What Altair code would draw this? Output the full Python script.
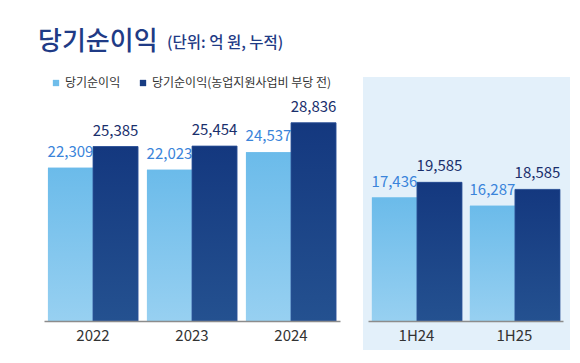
import altair as alt
import pandas as pd

FONT = "Noto Sans CJK KR"

# ---- data ----
years = ["2022", "2023", "2024"]
halves = ["1H24", "1H25"]
series = ["당기순이익", "당기순이익(농업지원사업비 부당 전)"]
net_income_years = [22309, 22023, 24537]
net_income_pre_years = [25385, 25454, 28836]
net_income_halves = [17436, 16287]
net_income_pre_halves = [19585, 18585]

title_text = ["당기순이익"]
subtitle_text = ["(단위: 억 원, 누적)"]

LIGHT = "#6fbdea"
DARK = "#183c82"
LIGHT_LABEL = "#3a84da"
DARK_LABEL = "#1a2f6c"
TITLE_C = "#1f3b86"

light_grad = {"gradient": "linear", "x1": 0, "x2": 0, "y1": 0, "y2": 1,
              "stops": [{"offset": 0, "color": "#6bbbea"}, {"offset": 1, "color": "#97d0f1"}]}
dark_grad = {"gradient": "linear", "x1": 0, "x2": 0, "y1": 0, "y2": 1,
             "stops": [{"offset": 0, "color": "#14387f"}, {"offset": 1, "color": "#245190"}]}


def long_df(cats, a, b):
    rows = []
    for c, v1, v2 in zip(cats, a, b):
        rows.append({"cat": c, "series": series[0], "value": v1})
        rows.append({"cat": c, "series": series[1], "value": v2})
    return pd.DataFrame(rows)


df_left = long_df(years, net_income_years, net_income_pre_years)
df_right = long_df(halves, net_income_halves, net_income_pre_halves)

H = 244
W1 = 296
W2 = 195


def panel(df, cats, width, ymax, background=False):
    xenc = alt.X("cat:N", sort=cats, title=None,
                 scale=alt.Scale(paddingInner=0.09, paddingOuter=0.04),
                 axis=alt.Axis(labelAngle=0, ticks=False, domainColor="#8c8c8c",
                               domainWidth=1.5, labelFontSize=15, labelColor="#333333",
                               labelFont=FONT, labelPadding=7, zindex=1))
    xoff = alt.XOffset("series:N", sort=series, scale=alt.Scale(domain=series))
    yenc = alt.Y("value:Q", scale=alt.Scale(domain=[0, ymax], nice=False), axis=None)

    base = alt.Chart(df).encode(x=xenc, xOffset=xoff, y=yenc)

    solid = base.mark_bar().encode(
        color=alt.Color("series:N", sort=series,
                        scale=alt.Scale(domain=series, range=[LIGHT, DARK]),
                        legend=alt.Legend(title=None, orient="none", legendX=6, legendY=0,
                                          direction="horizontal", symbolType="square",
                                          symbolSize=40, symbolStrokeWidth=0,
                                          labelFontSize=12, labelColor="#333333",
                                          labelFont=FONT, columnPadding=16, padding=0,
                                          labelOffset=3, labelLimit=400)))
    g_light = base.transform_filter(alt.datum.series == series[0]).mark_bar(color=light_grad)
    g_dark = base.transform_filter(alt.datum.series == series[1]).mark_bar(
        color=dark_grad, stroke="#2d5399", strokeWidth=0.8)
    t_light = base.transform_filter(alt.datum.series == series[0]).mark_text(
        dy=-11, baseline="alphabetic", fontSize=15, font=FONT, color=LIGHT_LABEL
    ).encode(text=alt.Text("value:Q", format=","))
    t_dark = base.transform_filter(alt.datum.series == series[1]).mark_text(
        dy=-11, baseline="alphabetic", fontSize=15, font=FONT, color=DARK_LABEL
    ).encode(text=alt.Text("value:Q", format=","))

    layers = [solid, g_light, g_dark, t_light, t_dark]
    if background:
        bg = alt.Chart(pd.DataFrame({"k": [0]})).mark_rect(color="#e3f0fa").encode(
            x=alt.value(-5), x2=alt.value(width + 7), y=alt.value(0), y2=alt.value(H + 29))
        layers = [bg] + layers
    return alt.layer(*layers).properties(width=width, height=H)


left = panel(df_left, years, W1, 35500)

title = alt.Chart(pd.DataFrame({"t": title_text})).mark_text(
    align="left", baseline="alphabetic", fontSize=26, font=FONT, fontWeight=500, color=TITLE_C
).encode(text="t:N", x=alt.value(-6), y=alt.value(-27))
subtitle = alt.Chart(pd.DataFrame({"t": subtitle_text})).mark_text(
    align="left", baseline="alphabetic", fontSize=15.5, font=FONT, fontWeight=500, color=TITLE_C
).encode(text="t:N", x=alt.value(123), y=alt.value(-29))

left = alt.layer(left, title, subtitle).properties(width=W1, height=H)
right = panel(df_right, halves, W2, 34460, background=True)

chart = alt.hconcat(left, right, spacing=28, bounds="flush").resolve_scale(
    y="independent", color="shared"
).properties(
    padding={"left": 30, "top": 21, "right": 0, "bottom": 0}
).configure_view(stroke=None)

chart.save("out.html", embed_options={"renderer": "svg", "actions": False})
